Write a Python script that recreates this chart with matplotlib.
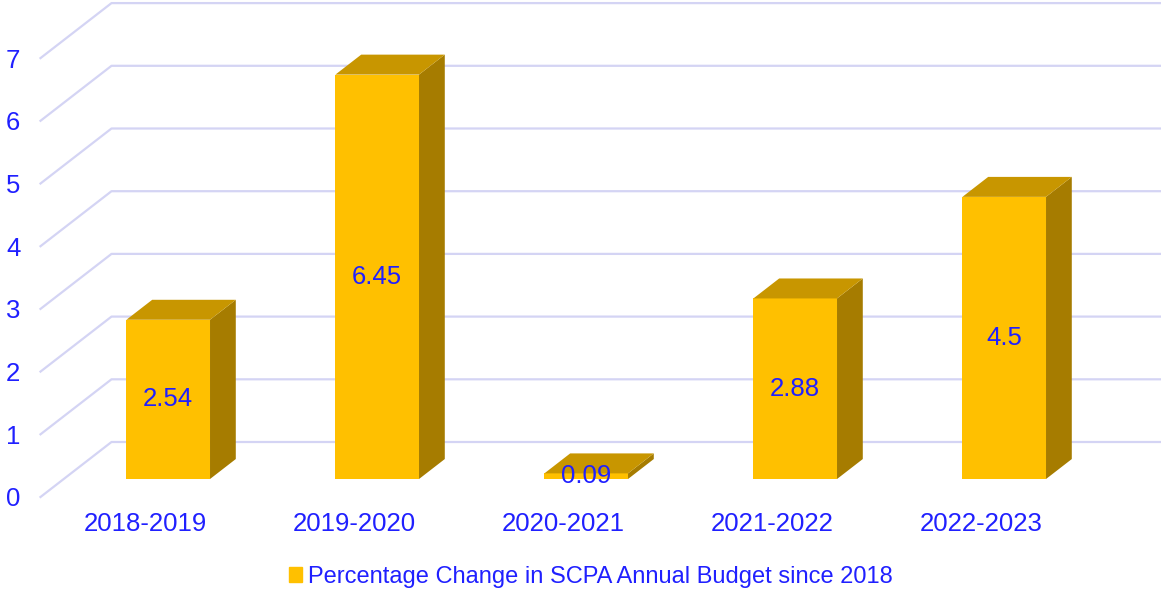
import matplotlib
matplotlib.use("Agg")
import matplotlib.pyplot as plt
from matplotlib.patches import Polygon, Patch

plt.rcParams['font.family'] = ['Liberation Sans', 'DejaVu Sans']

years = ['2018-2019', '2019-2020', '2020-2021', '2021-2022', '2022-2023']
change = [2.54, 6.45, 0.09, 2.88, 4.5]
label_text = ['2.54', '6.45', '0.09', '2.88', '4.5']
series_name = 'Percentage Change in SCPA Annual Budget since 2018'

blue = '#2020ff'
grid_col = '#d4d4f4'
front_col = '#ffc000'
top_col = '#c89600'
side_col = '#a67c00'

W, H = 1161, 590
fig = plt.figure(figsize=(W / 100, H / 100), dpi=100)
# axes box = front plane of the pseudo 3d chart
ax = fig.add_axes([40.5 / W, (H - 497) / H, 1045 / W, 7.9 * 62.7 / H])
ax.set_xlim(-0.5, 4.5)
ax.set_ylim(0, 7.9)
for s in ax.spines.values():
    s.set_visible(False)

# depth direction (front plane -> back wall) in data units
ddx = 71 / 209
ddy = 55 / 62.7
d1, d2 = 0.327, 0.69   # bar front / back depth
hw = 0.2               # half width of bar

# gridlines: diagonal on left floor side + horizontal on back wall
for v in range(8):
    ax.plot([-0.5, -0.5 + ddx, 4.7 + ddx], [v, v + ddy, v + ddy],
            color=grid_col, lw=1.6, clip_on=False, zorder=1)

for i, v in enumerate(change):
    xl = i - hw + d1 * ddx
    xr = i + hw + d1 * ddx
    yb = d1 * ddy
    yt = v + d1 * ddy
    ox = (d2 - d1) * ddx
    oy = (d2 - d1) * ddy
    front = Polygon([(xl, yb), (xr, yb), (xr, yt), (xl, yt)], closed=True,
                    fc=front_col, ec='none', zorder=3, clip_on=False)
    side = Polygon([(xr, yb), (xr + ox, yb + oy), (xr + ox, yt + oy), (xr, yt)],
                   closed=True, fc=side_col, ec='none', zorder=3, clip_on=False)
    top = Polygon([(xl, yt), (xr, yt), (xr + ox, yt + oy), (xl + ox, yt + oy)],
                  closed=True, fc=top_col, ec='none', zorder=3, clip_on=False)
    for p in (front, side, top):
        ax.add_patch(p)
    ax.text(i + d1 * ddx, yb + v / 2, label_text[i], color=blue, fontsize=18.5,
            ha='center', va='center', zorder=4)

ax.set_yticks(range(8))
ax.set_xticks(range(len(years)))
ax.set_xticklabels(years)
ax.tick_params(axis='both', length=0, labelcolor=blue, labelsize=18.5)
ax.tick_params(axis='y', pad=14.5)
ax.tick_params(axis='x', pad=11)

fig.legend(handles=[Patch(color=front_col, label=series_name)],
           loc='center', bbox_to_anchor=(591 / W, 1 - 577 / H), frameon=False,
           handlelength=0.55, handleheight=0.6, handletextpad=0.25,
           prop={'size': 17}, labelcolor=blue)

fig.savefig('out.png', dpi=100)
